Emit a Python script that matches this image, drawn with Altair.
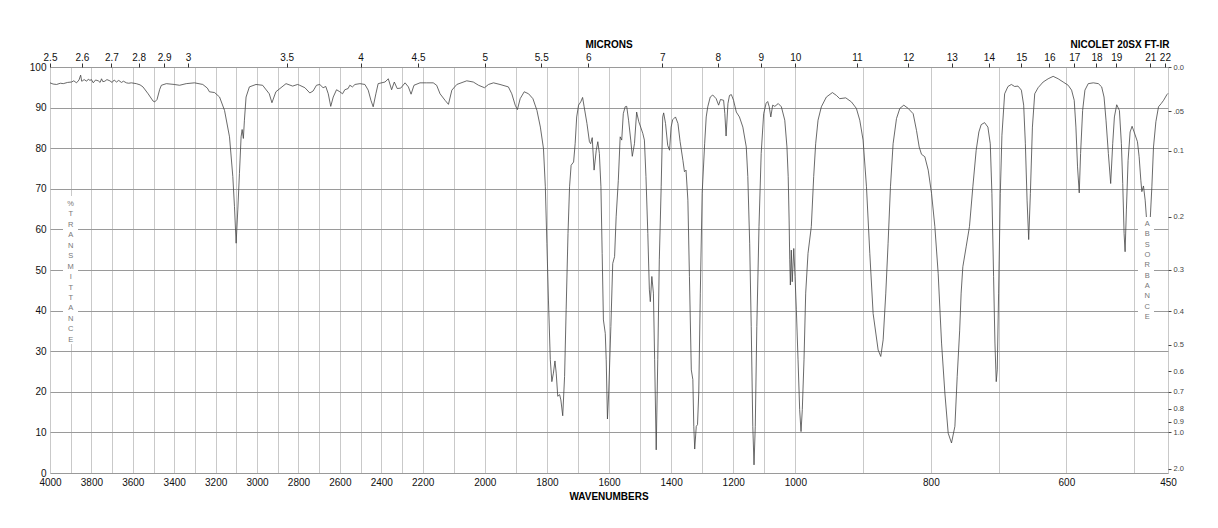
import altair as alt
import pandas as pd

# ---- spectrum (wavenumber cm-1, %T) ----
WAVENUMBER = [
    4000, 3985, 3968, 3950, 3936, 3915, 3896, 3885, 3872, 3860, 3852, 3847, 3843, 3835, 3823, 3815,
    3807, 3800, 3791, 3780, 3767, 3758, 3751, 3745, 3735, 3725, 3711, 3700, 3690, 3679, 3668, 3655,
    3645, 3631, 3620, 3607, 3583, 3565, 3551, 3526, 3502, 3494, 3483, 3470, 3462, 3438, 3400, 3374,
    3342, 3302, 3262, 3240, 3230, 3205, 3181, 3157, 3133, 3117, 3109, 3101, 3093, 3085, 3077, 3072,
    3066, 3061, 3053, 3037, 3005, 2973, 2941, 2928, 2909, 2860, 2828, 2804,
    2794, 2769, 2745, 2729, 2713, 2697, 2681, 2668, 2656, 2644, 2632, 2616, 2600, 2587, 2576, 2560,
    2552, 2539, 2527, 2503, 2479, 2463, 2450, 2439, 2426, 2415, 2382, 2366, 2350, 2337, 2323, 2306,
    2285, 2269, 2256, 2242, 2213, 2187, 2166, 2155, 2144, 2128, 2117, 2106, 2090, 2058, 2037, 2020,
    2001, 1988, 1972, 1951, 1924, 1913, 1902, 1895, 1886, 1873, 1859, 1845, 1832, 1821, 1811, 1805,
    1800, 1795, 1789, 1784, 1779, 1774, 1770, 1765, 1759, 1755, 1749, 1743, 1738, 1732, 1727, 1722,
    1714, 1709, 1704, 1698, 1691, 1685, 1680, 1671, 1663, 1659, 1654, 1648, 1641, 1636, 1631, 1626,
    1622, 1618, 1612, 1609, 1605, 1601, 1594, 1588, 1582, 1577, 1570, 1564, 1559, 1554, 1548, 1543,
    1537, 1530, 1525, 1518, 1511, 1504, 1498, 1491, 1486, 1481, 1475, 1470, 1467, 1462, 1457, 1453,
    1448, 1443, 1438, 1432, 1427, 1424, 1418, 1411, 1405, 1400, 1395, 1386, 1378, 1371, 1362, 1357,
    1352, 1346, 1341, 1335, 1330, 1327, 1324, 1319, 1315, 1311, 1306, 1300, 1292, 1287, 1282, 1274,
    1266, 1255, 1247, 1241, 1231, 1227, 1223, 1217, 1212, 1206, 1199, 1190, 1180, 1169, 1158, 1153,
    1147, 1142, 1137, 1133, 1129, 1124, 1117, 1110, 1102, 1094, 1089, 1084, 1079, 1073, 1066, 1055,
    1045, 1034, 1027, 1023, 1020, 1018, 1016, 1013, 1010, 1005, 1001, 998.5, 996, 993.6, 991.6, 989.7,
    987.2, 984.7, 981.3, 976.4, 972.9, 970, 966.5, 961.6, 954.2, 945.3, 939.4, 934.5, 925.6, 917.2,
    909.9, 904.9, 900, 895, 890.1, 885.2, 877.8, 873.9, 870.4, 866.5, 863.1, 859.6, 855.7, 850.7,
    845.8, 839.9, 833.5, 826.1, 821.2, 817.2, 813.8, 808.9, 803.9, 799, 794.1, 789.2, 784.2, 779.3,
    774.4, 769.5, 764.5, 761.1, 757.5, 755.3, 752.8, 747.9, 743, 738, 733.1, 729.1, 725.7, 720.7,
    715.8, 712.3, 709.9, 707.4, 705.4, 703.5, 702, 700, 697.5, 695.1, 691.1, 686.2, 681.2, 676.3,
    671.4, 666.4, 663, 660.5, 658, 655.6, 653.1, 650.1, 646.7, 641.7, 634.3, 626.9, 619.5, 612.1,
    604.7, 597.3, 592.3, 588.4, 585.9, 583.5, 581, 579, 576, 572.6, 567.7, 560.2, 552.8, 547.9,
    544.4, 541.5, 538, 534.6, 531.6, 529.1, 525.7, 521.7, 518.8, 516.8, 514.8, 513.3, 511.4, 508.9,
    505.9, 503, 500, 495.1, 492.6, 490.1, 488.6, 486.2, 483.7, 481.2, 478.3, 476.3, 473.8, 471.4,
    467.9, 464, 460, 456.5, 451.6, 450,
]
TRANSMITTANCE = [
    96.1, 95.8, 95.7, 96.0, 95.9, 96.2, 96.3, 96.6, 96.1, 96.8, 98.0, 96.5, 96.6, 96.9, 96.5, 97.0,
    96.7, 96.9, 96.1, 96.8, 96.6, 96.2, 97.1, 96.4, 96.5, 96.9, 96.6, 96.2, 96.8, 96.3, 96.7, 96.2,
    96.5, 96.1, 96.0, 96.1, 95.9, 95.6, 95.1, 93.4, 91.6, 91.4, 92.0, 94.5, 95.5, 95.9, 95.7, 95.5,
    95.9, 96.1, 95.7, 94.8, 93.9, 93.7, 92.6, 89.3, 82.8, 73.0, 65.6, 56.6, 64.8, 73.8, 82.8, 84.6,
    82.4, 86.9, 92.6, 95.1, 95.7, 95.5, 93.4, 91.2, 93.9, 95.9, 95.3, 95.7,
    95.5, 94.9, 93.6, 94.1, 95.5, 95.7, 94.9, 95.2, 93.4, 90.3, 92.6, 94.4, 93.9, 93.4, 94.4, 94.7,
    95.5, 95.1, 95.7, 95.9, 95.7, 94.3, 91.8, 90.2, 93.4, 95.9, 96.3, 97.1, 94.4, 96.3, 94.7, 94.8,
    96.1, 95.1, 93.3, 95.5, 96.1, 96.1, 96.1, 95.5, 93.4, 91.8, 90.8, 94.3, 95.7, 96.6, 96.3, 95.5,
    94.9, 95.7, 96.1, 95.7, 95.1, 93.4, 90.6, 89.5, 92.2, 93.9, 93.4, 92.2, 89.3, 85.2, 79.9, 70.5,
    56.6, 42.6, 27.9, 22.5, 24.6, 27.6, 24.6, 18.9, 19.3, 18.0, 14.1, 23.8, 40.2, 59.0, 70.5, 75.8,
    76.6, 81.1, 87.7, 90.6, 91.4, 92.5, 90.2, 86.1, 81.6, 81.1, 82.6, 74.6, 79.5, 81.6, 78.7, 70.5,
    54.1, 37.7, 34.4, 27.9, 13.3, 19.7, 36.1, 51.6, 53.3, 63.1, 72.1, 82.8, 82.0, 88.5, 90.2, 90.3,
    86.9, 82.0, 78.0, 81.1, 88.9, 86.5, 85.2, 83.6, 82.0, 73.0, 59.0, 45.1, 42.2, 48.4, 44.3, 27.9,
    5.7, 27.9, 52.5, 70.5, 87.7, 88.7, 86.1, 80.7, 79.5, 85.2, 87.0, 87.7, 86.1, 81.6, 77.0, 74.2,
    74.6, 67.2, 48.4, 25.4, 23.0, 11.5, 5.9, 11.5, 11.9, 19.7, 44.3, 68.9, 81.1, 87.7, 90.2, 92.6,
    93.1, 92.2, 90.6, 92.0, 91.8, 88.5, 83.0, 91.0, 93.0, 93.2, 91.8, 88.9, 87.7, 85.2, 80.3, 73.0,
    56.6, 36.1, 11.5, 2.0, 11.5, 36.1, 60.7, 78.7, 88.5, 91.1, 91.5, 90.2, 87.7, 90.6, 90.3, 91.0,
    90.2, 86.9, 80.3, 73.0, 62.3, 52.5, 46.3, 54.9, 47.1, 55.3, 48.4, 40.2, 27.9, 15.6, 10.2, 15.6,
    27.9, 44.3, 54.1, 60.7, 73.0, 81.1, 86.9, 90.2, 92.6, 93.7, 93.0, 92.2, 92.4, 91.4,
    89.8, 86.9, 82.0, 70.5, 54.1, 39.3, 30.3, 28.7, 32.8, 44.3, 56.6, 70.5, 81.1, 87.3,
    89.8, 90.6, 89.8, 88.5, 84.4, 80.3, 78.5, 77.9, 74.6, 68.9, 60.7, 49.2, 32.0, 19.7,
    9.8, 7.4, 11.5, 23.8, 35.0, 44.3, 50.8, 55.7, 60.7, 70.5, 79.5, 84.0, 85.8, 86.3,
    85.2, 81.1, 68.9, 48.4, 32.0, 22.5, 25.4, 44.3, 68.9, 83.2, 93.4, 95.2, 95.7, 95.2,
    95.3, 94.3, 90.6, 81.1, 67.2, 57.5, 68.9, 85.2, 93.4, 94.9, 96.3, 97.1, 97.7, 97.1,
    96.3, 95.5, 94.3, 91.8, 85.2, 75.4, 69.0, 78.7, 89.3, 94.3, 95.9, 96.1, 95.9, 95.1,
    92.6, 86.9, 78.7, 71.3, 81.1, 87.7, 90.7, 89.3, 81.1, 71.3, 59.0, 54.5, 64.8, 77.0,
    84.0, 85.4, 84.0, 81.6, 77.9, 72.1, 69.3, 70.7, 67.2, 61.5, 60.2, 62.3, 70.5, 80.3,
    86.5, 90.2, 91.0, 91.8, 93.2, 93.5,
]

# ---- axis tick / label definitions ----
WN_BREAKS = [4000, 2200, 1000, 450]
WN_GRID = list(range(4000, 499, -100)) + [450]
MICRON_LABELS = [2.5, 2.6, 2.7, 2.8, 2.9, 3, 3.5, 4, 4.5, 5, 5.5, 6, 7, 8, 9, 10, 11,
                 12, 13, 14, 15, 16, 17, 18, 19, 21, 22]
T_TICKS = list(range(0, 101, 10))
ABS_LABELS = [0.0, 0.05, 0.1, 0.2, 0.3, 0.4, 0.5, 0.6, 0.7, 0.8, 0.9, 1.0, 2.0]
LEFT_LETTERS = list("%TRANSMITTANCE")
RIGHT_LETTERS = list("ABSORBANCE")

df = pd.DataFrame({"wn": WAVENUMBER, "T": TRANSMITTANCE})

W, H = 1118, 406
FONT = "Liberation Sans"

xscale = alt.Scale(domain=WN_BREAKS, range=[0, W / 3, 2 * W / 3, W], nice=False, zero=False)
yscale = alt.Scale(domain=[0, 100], nice=False, zero=False)

bottom_axis = alt.Axis(
    orient="bottom", values=WN_GRID, format="d",
    labelExpr="(datum.value % 200 == 0 || datum.value == 450) ? datum.label : ''",
    grid=True, gridColor="#c9c9c9", gridWidth=1, ticks=False, domain=False,
    labelFont=FONT, labelFontSize=10, labelColor="#111", labelPadding=4,
    labelOverlap=False, labelFlush=False, title=None,
)
left_axis = alt.Axis(
    orient="left", values=T_TICKS, format="d", grid=True, gridColor="#9a9a9a",
    gridWidth=1, ticks=False, domain=False, labelFont=FONT, labelFontSize=10,
    labelColor="#111", labelPadding=4, title=None,
)
top_axis = alt.Axis(
    orient="top", values=[10000.0 / m for m in MICRON_LABELS],
    labelExpr="'' + round(100000 / datum.value) / 10",
    grid=False, ticks=True, tickSize=4, tickColor="#333", domain=False,
    labelFont=FONT, labelFontSize=10, labelColor="#111", labelPadding=1,
    labelOverlap=False, labelFlush=False, title=None,
)
right_axis = alt.Axis(
    orient="right", values=[100 * 10 ** (-a) for a in ABS_LABELS],
    labelExpr="(datum.value > 85 && datum.value < 95) ? '.05' : format(abs(log(100 / datum.value) / LN10), '.1f')",
    grid=False, ticks=True, tickSize=3, tickColor="#444", domain=False,
    labelFont=FONT, labelFontSize=7.5, labelColor="#444", labelPadding=2,
    labelOverlap=False, labelFlush=False, title=None,
)

one = pd.DataFrame({"k": [0]})

spectrum = alt.Chart(df).mark_line(color="#444", strokeWidth=0.8).encode(
    x=alt.X("wn:Q", scale=xscale, axis=bottom_axis),
    y=alt.Y("T:Q", scale=yscale, axis=left_axis),
    order=alt.Order("wn:Q", sort="descending"),
)
ghost = alt.Chart(df).mark_line(opacity=0).encode(
    x=alt.X("wn:Q", scale=xscale, axis=top_axis),
    y=alt.Y("T:Q", scale=yscale, axis=right_axis),
    order=alt.Order("wn:Q", sort="descending"),
)

box_left = alt.Chart(one).mark_rect(color="white").encode(
    x=alt.value(13), x2=alt.value(28), y=alt.value(129), y2=alt.value(277))
box_right = alt.Chart(one).mark_rect(color="white").encode(
    x=alt.value(1088), x2=alt.value(1104), y=alt.value(150), y2=alt.value(255))
text_left = alt.Chart(one).mark_text(
    font=FONT, fontSize=7.5, color="#777", baseline="top", align="center", lineHeight=10.45
).encode(x=alt.value(20.7), y=alt.value(133), text=alt.value(LEFT_LETTERS))
text_right = alt.Chart(one).mark_text(
    font=FONT, fontSize=7.5, color="#777", baseline="top", align="center", lineHeight=10.35
).encode(x=alt.value(1097.3), y=alt.value(153), text=alt.value(RIGHT_LETTERS))

t_microns = alt.Chart(one).mark_text(
    font=FONT, fontSize=10, fontWeight="bold", color="#000", baseline="middle", align="center"
).encode(x=alt.value(559), y=alt.value(-22), text=alt.value("MICRONS"))
t_nicolet = alt.Chart(one).mark_text(
    font=FONT, fontSize=10, fontWeight="bold", color="#000", baseline="middle", align="center"
).encode(x=alt.value(1070), y=alt.value(-22), text=alt.value("NICOLET 20SX FT-IR"))
t_wave = alt.Chart(one).mark_text(
    font=FONT, fontSize=10, fontWeight="bold", color="#000", baseline="middle", align="center"
).encode(x=alt.value(559), y=alt.value(430), text=alt.value("WAVENUMBERS"))

chart = alt.layer(
    spectrum, ghost, box_left, box_right, text_left, text_right, t_microns, t_nicolet, t_wave
).resolve_scale(x="independent", y="independent").properties(
    width=W, height=H,
    padding={"left": 50, "top": 67, "right": 50, "bottom": 55},
    autosize=alt.AutoSizeParams(type="none"),
).configure_view(stroke="#444", strokeWidth=1).configure(background="white")

chart.save("out.html", embed_options={"renderer": "svg", "actions": False})
